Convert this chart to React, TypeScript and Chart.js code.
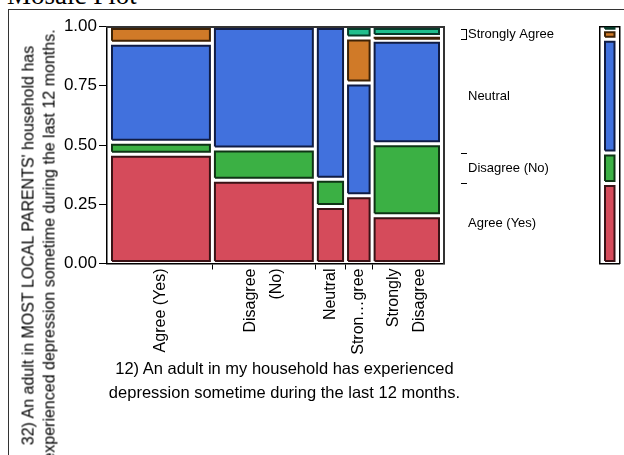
import React, { useEffect, useRef } from "react";
import { Chart, registerables } from "chart.js";

Chart.register(...registerables);

// ---------------- data ----------------
const xCategories = ["Agree (Yes)", "Disagree (No)", "Neutral", "Strongly Agree", "Strongly Disagree"];
const xTickLabels: string[][] = [["Agree (Yes)"], ["Disagree", "(No)"], ["Neutral"], ["Stron…gree"], ["Strongly", "Disagree"]];
const columnShares = [0.31, 0.31, 0.091, 0.08, 0.209];

const responseLevels = ["Agree (Yes)", "Disagree (No)", "Neutral", "Strongly Agree", "Strongly Disagree"];
const agreeYes = [0.461, 0.351, 0.24, 0.286, 0.202];
const disagreeNo = [0.051, 0.132, 0.115, 0.0, 0.303];
const neutral = [0.417, 0.517, 0.645, 0.476, 0.437];
const stronglyAgree = [0.071, 0.0, 0.0, 0.19, 0.016];
const stronglyDisagree = [0.0, 0.0, 0.0, 0.048, 0.042];

const marginalShares = [0.338, 0.128, 0.48, 0.04, 0.014];
const rightLabels = ["Agree (Yes)", "Disagree (No)", "Neutral", "Strongly Agree", ""];
const yTickValues = [0, 0.25, 0.5, 0.75, 1];

const chartTitle = "Mosaic Plot";
const xTitle = ["12) An adult in my household has experienced", "depression sometime during the last 12 months."];
const yTitle = ["32) An adult in MOST LOCAL PARENTS' household has", "experienced depression sometime during the last 12 months."];

// ---------------- styles / layout ----------------
const W = 624;
const H = 455;
const FONT = '"Liberation Sans", Arial, Helvetica, sans-serif';
const fills = ["#d54b5b", "#3bb044", "#4171dd", "#d07a28", "#20be8c"];
const edges = ["#3a1216", "#0f3315", "#101c44", "#3d2206", "#073a29"];

const PLOT_L = 107;
const PLOT_R = 444;
const PLOT_T = 26.5;
const PLOT_B = 263.5;
const Y_AXIS_W = 60;
const X_AXIS_H = 100;
const SPACER_W = 17;
const RIGHT_AXIS_W = 135;
const X_EDGE_PX = 2.5; // extra space at the ends of the column span
const CELL_INSET_PX = 2.5; // inset of the cell outline (centre of the border) from its share boundary
const CELL_BORDER = 2;
const X_LINE_H = 1.6;
const X_LABEL_SIZE = 16;

const MARG_L = 600;
const MARG_R = 619.5;
const MARG_INSET_PX = 5;

const series = [agreeYes, disagreeNo, neutral, stronglyAgree, stronglyDisagree];

function rectPoints(x0: number, x1: number, y0: number, y1: number) {
  return [
    { x: x0, y: y0 },
    { x: x0, y: y1 },
    { x: x1, y: y1 },
    { x: x1, y: y0 },
    { x: x0, y: y0 },
  ];
}

function cumulative(arr: number[]) {
  const out: number[] = [];
  let s = 0;
  for (const v of arr) {
    s += v;
    out.push(s);
  }
  return out;
}

const plotH = PLOT_B - PLOT_T;
const spanPx = PLOT_R - PLOT_L - 2 * X_EDGE_PX;
const xPad = X_EDGE_PX / spanPx;
const hx = CELL_INSET_PX / spanPx;

// vertical inset for a segment of share p (thin segments keep a 1px core)
function yInset(p: number) {
  const segPx = p * plotH;
  const insetPx = Math.max(0, Math.min(CELL_INSET_PX, (segPx - 1) / 2));
  return insetPx / plotH;
}

function cellDataset(label: string, li: number, pts: any[]) {
  return {
    type: "line",
    label,
    data: pts,
    fill: "shape",
    backgroundColor: fills[li],
    borderColor: edges[li],
    borderWidth: CELL_BORDER,
    borderJoinStyle: "miter",
    pointRadius: 0,
    pointHoverRadius: 0,
    tension: 0,
    xAxisID: "x",
    yAxisID: "y",
  };
}

function buildMainDatasets() {
  const ds: any[] = [];
  let xc = 0;
  columnShares.forEach((w, ci) => {
    let yc = 0;
    responseLevels.forEach((lv, li) => {
      const p = series[li][ci];
      if (p > 0) {
        const iy = yInset(p);
        ds.push(cellDataset(`${xCategories[ci]} / ${lv}`, li, rectPoints(xc + hx, xc + w - hx, yc + iy, yc + p - iy)));
      }
      yc += p;
    });
    xc += w;
  });
  return ds;
}

function buildMarginalDatasets() {
  const ds: any[] = [];
  const ix = MARG_INSET_PX / (MARG_R - MARG_L);
  let yc = 0;
  marginalShares.forEach((p, li) => {
    if (p > 0) {
      const iy = yInset(p);
      ds.push(cellDataset(responseLevels[li], li, rectPoints(ix, 1 - ix, yc + iy, yc + p - iy)));
    }
    yc += p;
  });
  return ds;
}

const colBounds = cumulative(columnShares).slice(0, -1);
const rightBounds = cumulative(marginalShares).slice(0, -1);

const bracketPlugin = {
  id: "bracket",
  afterDraw(chart: any) {
    const s = chart.scales.yR2;
    if (!s) return;
    const ctx = chart.ctx;
    const x = s.left + 6;
    ctx.save();
    ctx.strokeStyle = "#000";
    ctx.lineWidth = 1;
    for (let i = 0; i < rightBounds.length - 1; i++) {
      const a = s.getPixelForValue(rightBounds[i]);
      const b = s.getPixelForValue(rightBounds[i + 1]);
      if (Math.abs(a - b) < 14) {
        ctx.beginPath();
        ctx.moveTo(x - 0.5, a);
        ctx.lineTo(x - 0.5, b);
        ctx.stroke();
      }
    }
    ctx.restore();
  },
};

function frameScale(position: string, min: number, max: number, color: string, width: number, size: number, weight = 0) {
  const horizontal = position === "top" || position === "bottom";
  return {
    type: "linear",
    position,
    min,
    max,
    weight,
    display: true,
    ticks: { display: false },
    grid: { display: false, drawTicks: false },
    border: { display: true, color, width },
    afterFit: (s: any) => {
      if (horizontal) s.height = size;
      else s.width = size;
    },
  };
}

export default function App() {
  const mainRef = useRef<HTMLCanvasElement | null>(null);
  const margRef = useRef<HTMLCanvasElement | null>(null);

  useEffect(() => {
    if (!mainRef.current || !margRef.current) return;
    const nB = colBounds.length;
    const lhData = (X_LABEL_SIZE * X_LINE_H) / spanPx;
    const xCentersAdj = columnShares.map((w, i) => {
      const start = i === 0 ? 0 : colBounds[i - 1];
      const center = start + w / 2;
      return center - ((xTickLabels[i].length - 1) / 2) * lhData;
    });
    const rB = rightBounds.length;
    const rightCum = cumulative(marginalShares);
    const rightCenters: number[] = [];
    const rightCenterLabels: string[] = [];
    marginalShares.forEach((p, i) => {
      if (rightLabels[i]) {
        rightCenters.push(rightCum[i] - p / 2);
        rightCenterLabels.push(rightLabels[i]);
      }
    });

    const main = new Chart(mainRef.current, {
      type: "line",
      data: { datasets: buildMainDatasets() },
      plugins: [bracketPlugin],
      options: {
        animation: false,
        responsive: false,
        devicePixelRatio: 1,
        events: [],
        layout: {
          padding: {
            left: PLOT_L - Y_AXIS_W,
            top: PLOT_T,
            right: W - (PLOT_R + SPACER_W + RIGHT_AXIS_W),
            bottom: H - PLOT_B - X_AXIS_H,
          },
        },
        plugins: { legend: { display: false }, tooltip: { enabled: false }, title: { display: false } },
        scales: {
          x: {
            type: "linear",
            position: "bottom",
            min: -xPad,
            max: 1 + xPad,
            afterBuildTicks: (s: any) => {
              s.ticks = [...colBounds.map((v) => ({ value: v })), ...xCentersAdj.map((v) => ({ value: v }))];
            },
            afterFit: (s: any) => {
              s.height = X_AXIS_H;
            },
            border: { display: true, color: "#000", width: 1.5 },
            grid: {
              display: true,
              drawOnChartArea: false,
              drawTicks: true,
              tickLength: 6,
              tickWidth: 1,
              tickColor: (c: any) => (c.index < nB ? "#000" : "rgba(0,0,0,0)"),
            },
            ticks: {
              autoSkip: false,
              maxRotation: 90,
              minRotation: 90,
              padding: -1,
              color: "#000",
              font: { family: FONT, size: X_LABEL_SIZE, lineHeight: X_LINE_H },
              callback: (_v: any, i: number) => (i < nB ? "" : xTickLabels[i - nB]),
            },
          },
          y: {
            type: "linear",
            position: "left",
            min: 0,
            max: 1,
            afterBuildTicks: (s: any) => {
              s.ticks = yTickValues.map((v) => ({ value: v }));
            },
            afterFit: (s: any) => {
              s.width = Y_AXIS_W;
            },
            border: { display: true, color: "#000", width: 1.5 },
            grid: { display: true, drawOnChartArea: false, drawTicks: true, tickLength: 8, tickWidth: 1, tickColor: "#000" },
            ticks: {
              padding: 2,
              color: "#000",
              font: { family: FONT, size: 17 },
              callback: (v: any) => Number(v).toFixed(2),
            },
          },
          xTop: frameScale("top", 0, 1, "#333", 2, 0),
          yR1: frameScale("right", 0, 1, "#333", 2, SPACER_W, 0),
          yR2: {
            type: "linear",
            position: "right",
            weight: 1,
            min: 0,
            max: 1,
            afterBuildTicks: (s: any) => {
              s.ticks = [...rightBounds.map((v) => ({ value: v })), ...rightCenters.map((v) => ({ value: v }))];
            },
            afterFit: (s: any) => {
              s.width = RIGHT_AXIS_W;
            },
            border: { display: false },
            grid: {
              display: true,
              drawOnChartArea: false,
              drawTicks: true,
              tickLength: 6,
              tickWidth: 1,
              tickColor: (c: any) => (c.index < rB ? "#000" : "rgba(0,0,0,0)"),
            },
            ticks: {
              autoSkip: false,
              padding: 1,
              color: "#000",
              font: { family: FONT, size: 13 },
              callback: (_v: any, i: number) => (i < rB ? "" : rightCenterLabels[i - rB]),
            },
          },
        },
      } as any,
    });

    const marg = new Chart(margRef.current, {
      type: "line",
      data: { datasets: buildMarginalDatasets() },
      options: {
        animation: false,
        responsive: false,
        devicePixelRatio: 1,
        events: [],
        layout: { padding: { left: MARG_L, right: W - MARG_R, top: PLOT_T, bottom: H - PLOT_B } },
        plugins: { legend: { display: false }, tooltip: { enabled: false } },
        scales: {
          x: frameScale("bottom", 0, 1, "#000", 1.5, 0),
          y: frameScale("left", 0, 1, "#000", 1.5, 0),
          xT: frameScale("top", 0, 1, "#000", 1.5, 0),
          yR: frameScale("right", 0, 1, "#000", 1.5, 0),
        },
      } as any,
    });

    return () => {
      main.destroy();
      marg.destroy();
    };
  }, []);

  const yTitleW = 520;
  const yTitleLH = 20.5;
  const yTitleCx = 39.2;
  const yTitleCy = 245;

  return (
    <div style={{ position: "fixed", left: 0, top: 0, width: W, height: H, overflow: "hidden", background: "#fff" }}>
      <div
        style={{
          position: "absolute",
          left: 7,
          top: -18,
          font: '27px "Liberation Serif", "Times New Roman", serif',
          lineHeight: "27px",
          whiteSpace: "nowrap",
          color: "#000",
        }}
      >
        {chartTitle}
      </div>
      <div
        style={{
          position: "absolute",
          left: 8,
          top: 9,
          width: 900,
          height: 900,
          border: "1px solid #333",
          boxSizing: "border-box",
        }}
      />
      <canvas ref={mainRef} width={W} height={H} style={{ position: "absolute", left: 0, top: 0, width: W, height: H }} />
      <canvas ref={margRef} width={W} height={H} style={{ position: "absolute", left: 0, top: 0, width: W, height: H }} />
      <div
        style={{
          position: "absolute",
          left: yTitleCx - yTitleW / 2,
          top: yTitleCy - yTitleLH,
          width: yTitleW,
          height: yTitleLH * 2,
          transform: "rotate(-90deg)",
          transformOrigin: "50% 50%",
          textAlign: "center",
          font: `16px ${FONT}`,
          lineHeight: `${yTitleLH}px`,
          whiteSpace: "nowrap",
          color: "#000",
        }}
      >
        <div>{yTitle[0]}</div>
        <div>{yTitle[1]}</div>
      </div>
      <div
        style={{
          position: "absolute",
          left: 284.5 - 300,
          top: 355.5,
          width: 600,
          textAlign: "center",
          font: `16.5px ${FONT}`,
          lineHeight: "24px",
          whiteSpace: "nowrap",
          color: "#000",
        }}
      >
        <div>{xTitle[0]}</div>
        <div>{xTitle[1]}</div>
      </div>
    </div>
  );
}
